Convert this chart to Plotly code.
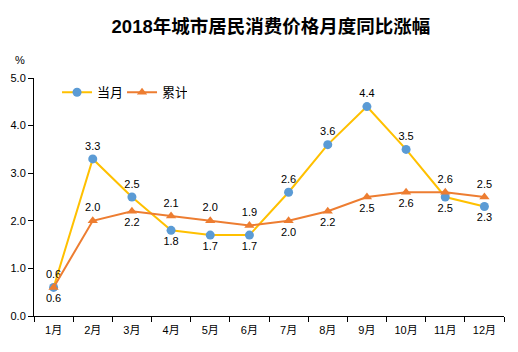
import plotly.graph_objects as go

months = ["1月", "2月", "3月", "4月", "5月", "6月", "7月", "8月", "9月", "10月", "11月", "12月"]
monthly = [0.6, 3.3, 2.5, 1.8, 1.7, 1.7, 2.6, 3.6, 4.4, 3.5, 2.5, 2.3]
cumulative = [0.6, 2.0, 2.2, 2.1, 2.0, 1.9, 2.0, 2.2, 2.5, 2.6, 2.6, 2.5]
monthly_pos = ["top center", "top center", "top center", "bottom center", "bottom center", "bottom center",
               "top center", "top center", "top center", "top center", "bottom center", "bottom center"]
cum_pos = ["bottom center", "top center", "bottom center", "top center", "top center", "top center",
           "bottom center", "bottom center", "bottom center", "bottom center", "top center", "top center"]

font_family = "Liberation Sans, Noto Sans CJK SC, sans-serif"

fig = go.Figure()
fig.add_trace(go.Scatter(
    x=months, y=monthly, name="当月", mode="lines+markers+text",
    line=dict(color="#FFC000", width=2),
    marker=dict(color="#5B9BD5", size=9, symbol="circle"),
    text=[f"{v:.1f}" for v in monthly], textposition=monthly_pos,
    textfont=dict(size=11, color="#000000", family=font_family),
))
fig.add_trace(go.Scatter(
    x=months, y=cumulative, name="累计", mode="lines+markers+text",
    line=dict(color="#ED7D31", width=2),
    marker=dict(color="#ED7D31", size=9, symbol="triangle-up"),
    text=[f"{v:.1f}" for v in cumulative], textposition=cum_pos,
    textfont=dict(size=11, color="#000000", family=font_family),
))

fig.update_layout(
    width=518, height=352,
    margin=dict(l=34, r=14, t=78, b=36, autoexpand=False),
    paper_bgcolor="white", plot_bgcolor="white",
    font=dict(family=font_family, size=11, color="#000000"),
    title=dict(text="<b>2018年城市居民消费价格月度同比涨幅</b>", x=0.523, xanchor="center",
               y=0.925, yanchor="middle", font=dict(size=18.5, color="#000000", family=font_family)),
    showlegend=True,
    legend=dict(orientation="h", x=0.049, y=0.94, xanchor="left", yanchor="middle",
                bgcolor="rgba(0,0,0,0)", font=dict(size=13), itemwidth=30,
                entrywidth=20, entrywidthmode="pixels", tracegroupgap=0),
    annotations=[dict(text="%", xref="paper", yref="paper", x=-0.03, y=1.075,
                      xanchor="center", yanchor="middle", showarrow=False, font=dict(size=11))],
)
fig.update_xaxes(range=[-0.5, 11.5], showline=True, linecolor="#000000", linewidth=1, ticks="outside",
                 ticklen=5, tickcolor="#000000", tickson="boundaries", showgrid=False, zeroline=False,
                 tickfont=dict(size=11), automargin=False, ticklabelstandoff=4)
fig.update_yaxes(range=[0, 5], dtick=1, tickformat=".1f", showline=True, linecolor="#000000",
                 linewidth=1, ticks="outside", ticklen=5, tickcolor="#000000", showgrid=False,
                 zeroline=False, tickfont=dict(size=11), automargin=False)

fig.write_html("out.html")
